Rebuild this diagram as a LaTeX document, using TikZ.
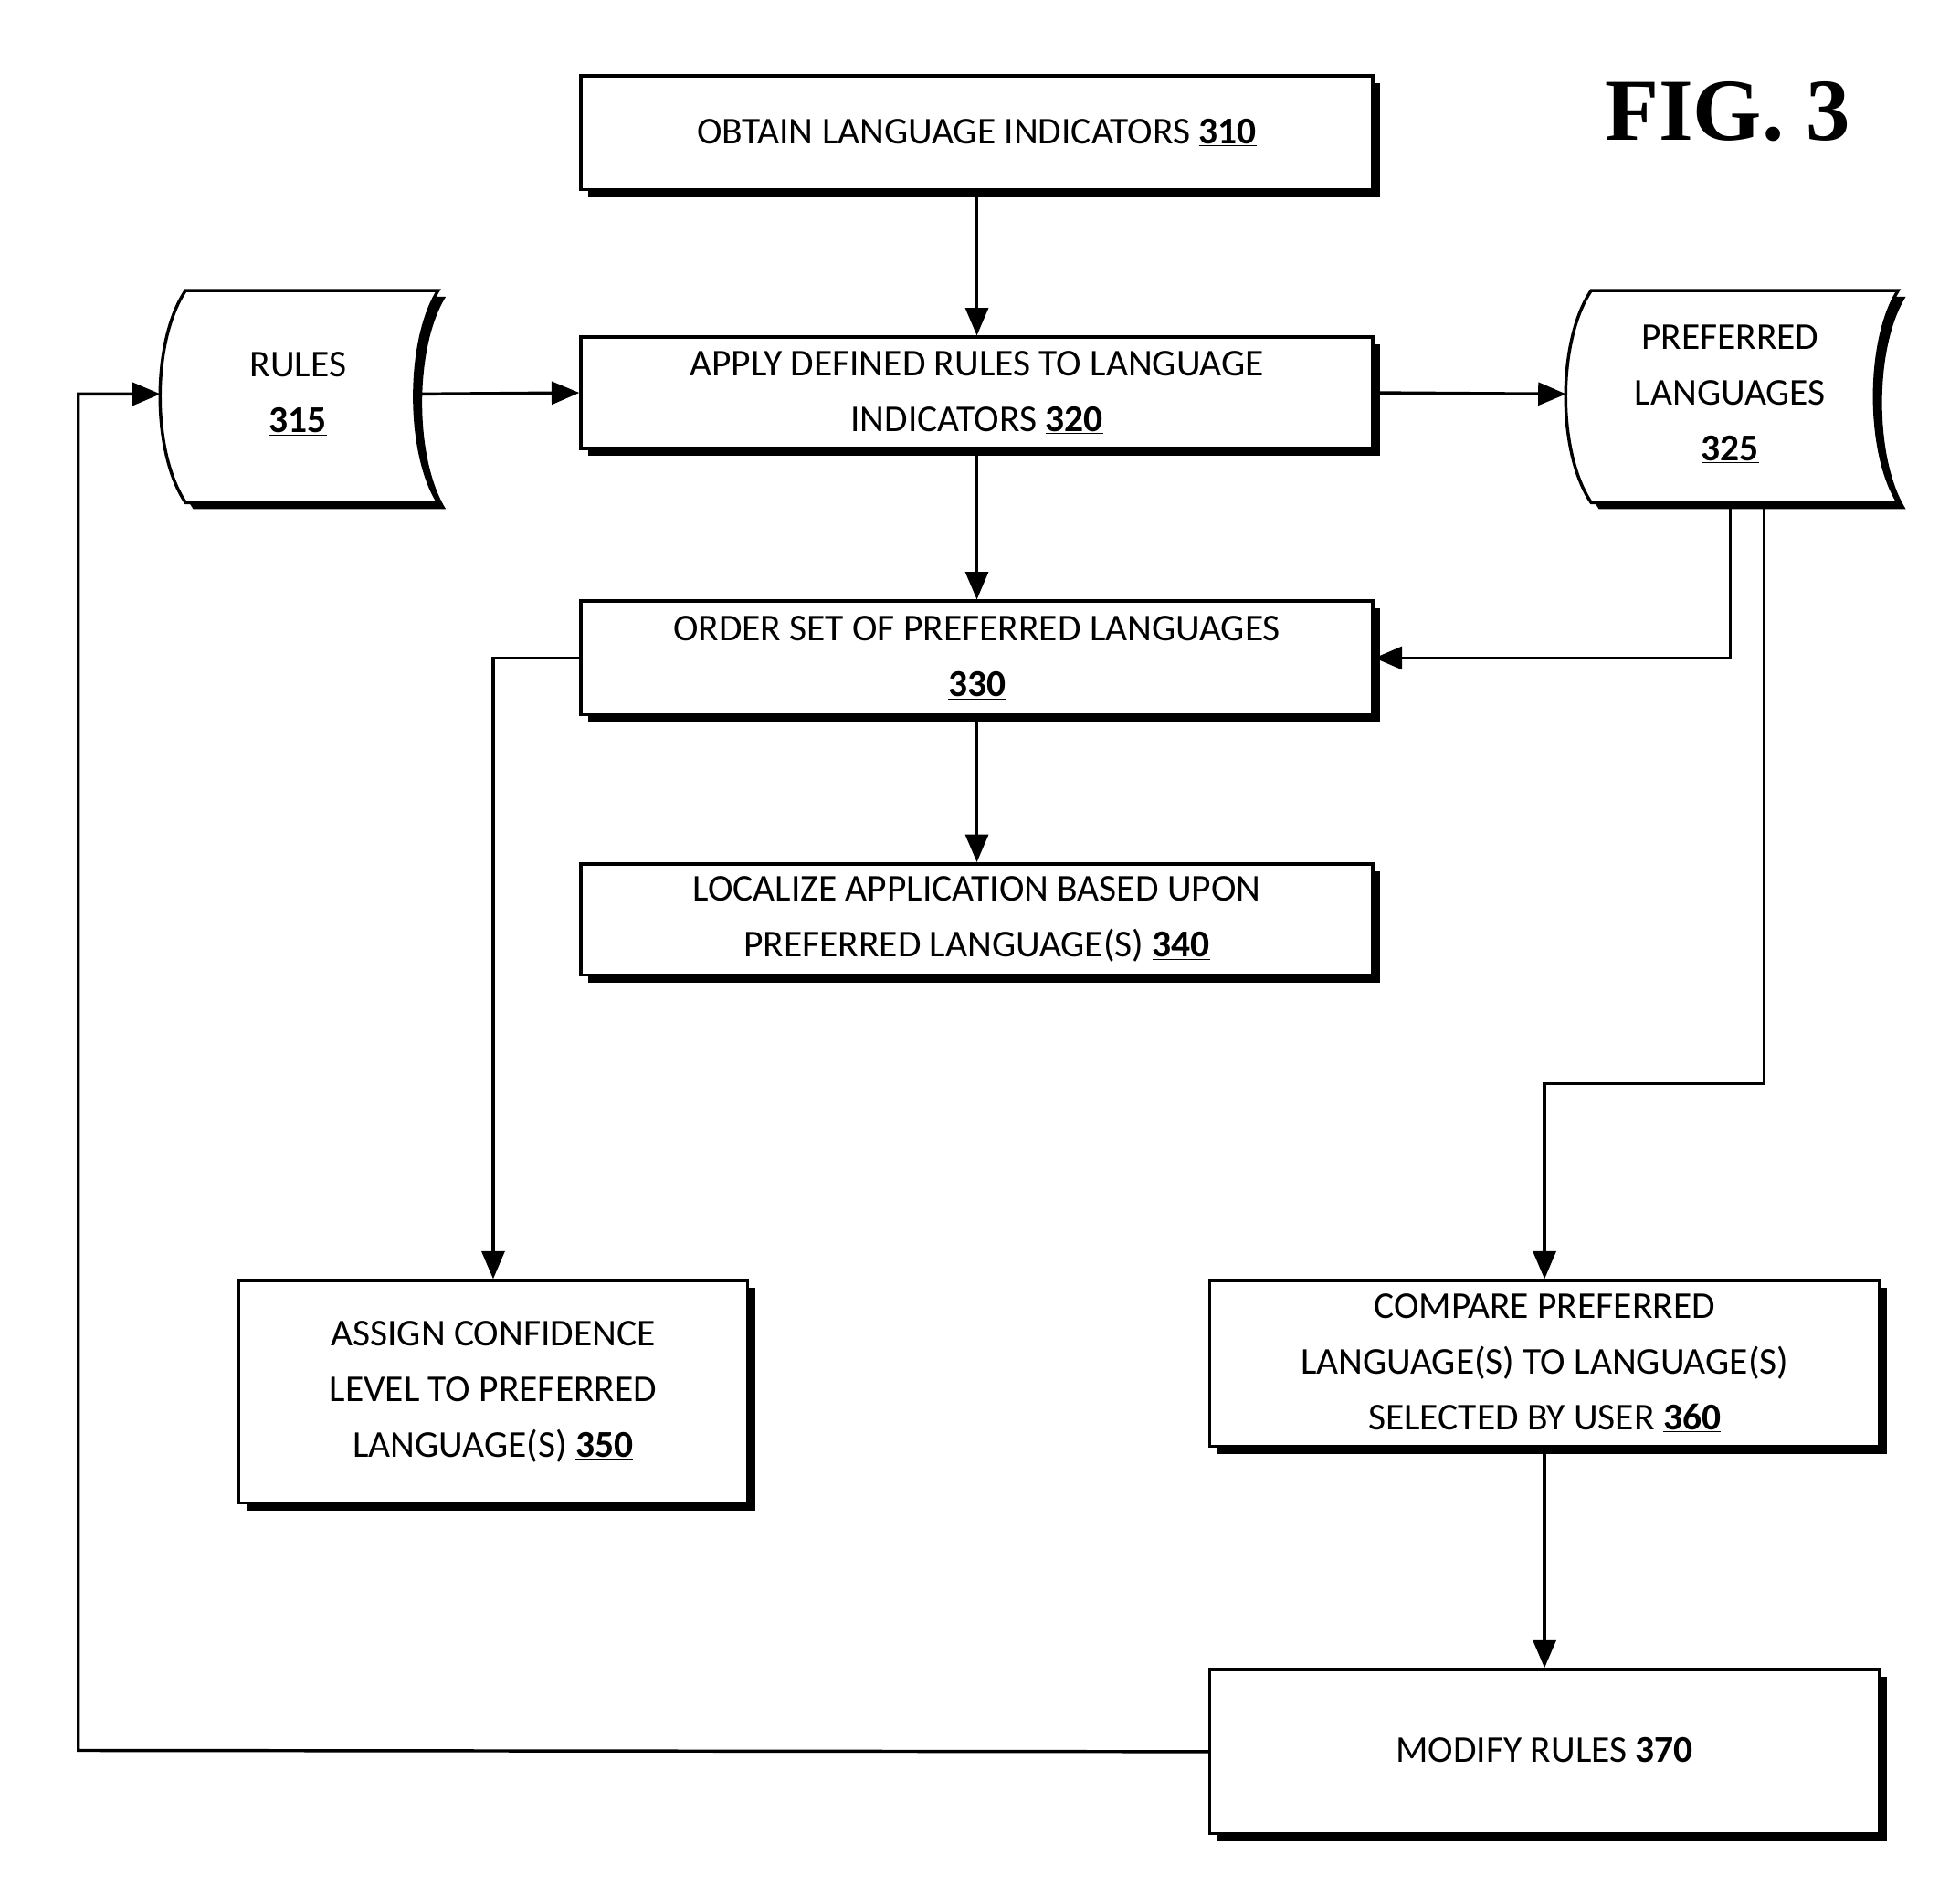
\documentclass[tikz,border=0pt]{standalone}
\usepackage{fontspec}
\setmainfont{Carlito}
\newfontfamily\figfont{Liberation Serif}
\usetikzlibrary{arrows.meta}
\newcommand{\num}[1]{\underline{\textbf{#1}}}
\begin{document}
\begin{tikzpicture}[x=1pt,y=-1pt,
 box/.style={draw,line width=2.5pt,fill=white,align=center,font=\fontsize{30}{44}\selectfont,inner sep=0pt},
 arr/.style={line width=2.5pt,-{Triangle[length=22pt,width=18pt]}},
 ln/.style={line width=2.5pt}]
\useasboundingbox (0,0) rectangle (1552,1502);
\newcommand{\shbox}[6]{% name, x1,y1,x2,y2, text
 \fill (#2+6,#3+6) rectangle (#4+6,#5+6);
 \node[box,minimum width=#4-#2,minimum height=#5-#3] (#1) at ({(#2+#4)/2},{(#3+#5)/2}) {#6};}
\shbox{n310}{460}{60}{1087}{150}{OBTAIN LANGUAGE INDICATORS \num{310}}
\shbox{n320}{460}{267}{1087}{355}{APPLY DEFINED RULES TO LANGUAGE\\INDICATORS \num{320}}
\shbox{n330}{460}{476}{1087}{566}{ORDER SET OF PREFERRED LANGUAGES\\\num{330}}
\shbox{n340}{460}{684}{1087}{772}{LOCALIZE APPLICATION BASED UPON\\PREFERRED LANGUAGE(S) \num{340}}
\shbox{n350}{189}{1014}{592}{1190}{ASSIGN CONFIDENCE\\LEVEL TO PREFERRED\\LANGUAGE(S) \num{350}}
\shbox{n360}{958}{1014}{1488}{1145}{COMPARE PREFERRED\\LANGUAGE(S) TO LANGUAGE(S)\\SELECTED BY USER \num{360}}
\shbox{n370}{958}{1322}{1488}{1452}{MODIFY RULES \num{370}}
% storage shapes
\newcommand{\stor}[5]{% x1 y1 x2 y2 style
 \path[#5] (#1+20,#2) -- (#3,#2) .. controls (#3-25,#2+40) and (#3-25,#4-40) .. (#3,#4)
   -- (#1+20,#4) .. controls (#1-7,#4-40) and (#1-7,#2+40) .. (#1+20,#2) -- cycle;}
\stor{133}{235}{353}{403}{fill}
\stor{127}{230}{347}{398}{draw,line width=2.5pt,fill=white}
\stor{1246}{235}{1509}{403}{fill}
\stor{1240}{230}{1503}{398}{draw,line width=2.5pt,fill=white}
\node[font=\fontsize{30}{44}\selectfont,align=center] (n315) at (236,312) {RULES\\\num{315}};
\node[font=\fontsize{30}{44}\selectfont,align=center] (n325) at (1370,312) {PREFERRED\\LANGUAGES\\\num{325}};
\coordinate (r315) at (332,312);
\coordinate (l315) at (127,312);
\coordinate (l325) at (1240,312);
\coordinate (b325a) at (1370,398);
\coordinate (b325b) at (1397,398);
\node[font=\figfont\bfseries\fontsize{70}{80}\selectfont] (fig) at (1368,88) {FIG. 3};
% connectors
\draw[arr] (n310) -- (n320);
\draw[arr] (r315) -- (n320.west);
\draw[arr] (n320.east) -- (l325);
\draw[arr] (n320) -- (n330);
\draw[arr] (n330) -- (n340);
\draw[arr] (b325a) |- (n330.east);
\draw[arr] (b325b) -- (1397,858) -| (n360.north);
\draw[arr] (n330.west) -| (n350.north);
\draw[arr] (n360) -- (n370);
\draw[arr] (n370.west) -- (62,1386) |- (l315);
\end{tikzpicture}
\end{document}
